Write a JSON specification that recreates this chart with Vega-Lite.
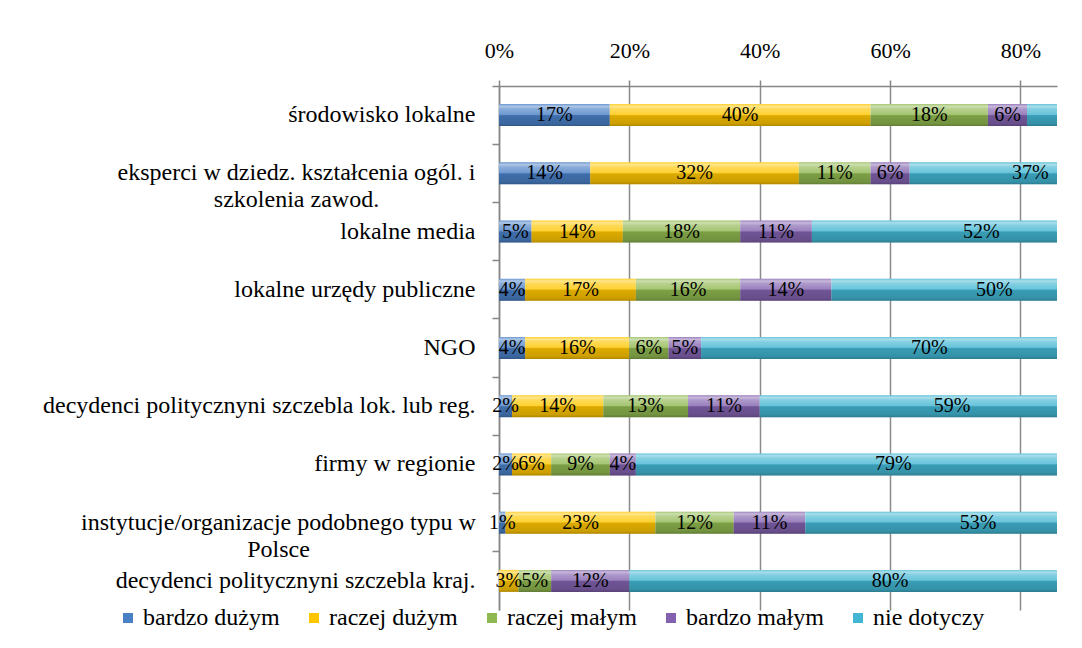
{
  "$schema": "https://vega.github.io/schema/vega-lite/v6.json",
  "width": 558,
  "height": 524,
  "autosize": "none",
  "padding": {"left": 499, "top": 86, "right": 25, "bottom": 38},
  "background": "white",
  "config": {
    "font": "Liberation Serif",
    "view": {"stroke": null},
    "legend": {"labelFont": "Liberation Serif", "labelFontSize": 24}
  },
  "data": {
    "values": [
      {"cat": "środowisko lokalne", "level": "bardzo dużym", "k": 1, "v": 0.17},
      {"cat": "środowisko lokalne", "level": "raczej dużym", "k": 2, "v": 0.40},
      {"cat": "środowisko lokalne", "level": "raczej małym", "k": 3, "v": 0.18},
      {"cat": "środowisko lokalne", "level": "bardzo małym", "k": 4, "v": 0.06},
      {"cat": "środowisko lokalne", "level": "nie dotyczy", "k": 5, "v": 0.19},
      {"cat": "eksperci w dziedz. kształcenia ogól. i\nszkolenia zawod.", "level": "bardzo dużym", "k": 1, "v": 0.14},
      {"cat": "eksperci w dziedz. kształcenia ogól. i\nszkolenia zawod.", "level": "raczej dużym", "k": 2, "v": 0.32},
      {"cat": "eksperci w dziedz. kształcenia ogól. i\nszkolenia zawod.", "level": "raczej małym", "k": 3, "v": 0.11},
      {"cat": "eksperci w dziedz. kształcenia ogól. i\nszkolenia zawod.", "level": "bardzo małym", "k": 4, "v": 0.06},
      {"cat": "eksperci w dziedz. kształcenia ogól. i\nszkolenia zawod.", "level": "nie dotyczy", "k": 5, "v": 0.37},
      {"cat": "lokalne media", "level": "bardzo dużym", "k": 1, "v": 0.05},
      {"cat": "lokalne media", "level": "raczej dużym", "k": 2, "v": 0.14},
      {"cat": "lokalne media", "level": "raczej małym", "k": 3, "v": 0.18},
      {"cat": "lokalne media", "level": "bardzo małym", "k": 4, "v": 0.11},
      {"cat": "lokalne media", "level": "nie dotyczy", "k": 5, "v": 0.52},
      {"cat": "lokalne urzędy publiczne", "level": "bardzo dużym", "k": 1, "v": 0.04},
      {"cat": "lokalne urzędy publiczne", "level": "raczej dużym", "k": 2, "v": 0.17},
      {"cat": "lokalne urzędy publiczne", "level": "raczej małym", "k": 3, "v": 0.16},
      {"cat": "lokalne urzędy publiczne", "level": "bardzo małym", "k": 4, "v": 0.14},
      {"cat": "lokalne urzędy publiczne", "level": "nie dotyczy", "k": 5, "v": 0.50},
      {"cat": "NGO", "level": "bardzo dużym", "k": 1, "v": 0.04},
      {"cat": "NGO", "level": "raczej dużym", "k": 2, "v": 0.16},
      {"cat": "NGO", "level": "raczej małym", "k": 3, "v": 0.06},
      {"cat": "NGO", "level": "bardzo małym", "k": 4, "v": 0.05},
      {"cat": "NGO", "level": "nie dotyczy", "k": 5, "v": 0.70},
      {"cat": "decydenci politycznyni szczebla lok. lub reg.", "level": "bardzo dużym", "k": 1, "v": 0.02},
      {"cat": "decydenci politycznyni szczebla lok. lub reg.", "level": "raczej dużym", "k": 2, "v": 0.14},
      {"cat": "decydenci politycznyni szczebla lok. lub reg.", "level": "raczej małym", "k": 3, "v": 0.13},
      {"cat": "decydenci politycznyni szczebla lok. lub reg.", "level": "bardzo małym", "k": 4, "v": 0.11},
      {"cat": "decydenci politycznyni szczebla lok. lub reg.", "level": "nie dotyczy", "k": 5, "v": 0.59},
      {"cat": "firmy w regionie", "level": "bardzo dużym", "k": 1, "v": 0.02},
      {"cat": "firmy w regionie", "level": "raczej dużym", "k": 2, "v": 0.06},
      {"cat": "firmy w regionie", "level": "raczej małym", "k": 3, "v": 0.09},
      {"cat": "firmy w regionie", "level": "bardzo małym", "k": 4, "v": 0.04},
      {"cat": "firmy w regionie", "level": "nie dotyczy", "k": 5, "v": 0.79},
      {"cat": "instytucje/organizacje podobnego typu w\nPolsce", "level": "bardzo dużym", "k": 1, "v": 0.01},
      {"cat": "instytucje/organizacje podobnego typu w\nPolsce", "level": "raczej dużym", "k": 2, "v": 0.23},
      {"cat": "instytucje/organizacje podobnego typu w\nPolsce", "level": "raczej małym", "k": 3, "v": 0.12},
      {"cat": "instytucje/organizacje podobnego typu w\nPolsce", "level": "bardzo małym", "k": 4, "v": 0.11},
      {"cat": "instytucje/organizacje podobnego typu w\nPolsce", "level": "nie dotyczy", "k": 5, "v": 0.53},
      {"cat": "decydenci politycznyni szczebla kraj.", "level": "raczej dużym", "k": 2, "v": 0.03},
      {"cat": "decydenci politycznyni szczebla kraj.", "level": "raczej małym", "k": 3, "v": 0.05},
      {"cat": "decydenci politycznyni szczebla kraj.", "level": "bardzo małym", "k": 4, "v": 0.12},
      {"cat": "decydenci politycznyni szczebla kraj.", "level": "nie dotyczy", "k": 5, "v": 0.80}
    ]
  },
  "transform": [
    {"stack": "v", "groupby": ["cat"], "sort": [{"field": "k", "order": "ascending"}], "as": ["v0", "v1"]}
  ],
  "encoding": {
    "y": {
      "field": "cat",
      "type": "nominal",
      "sort": null,
      "title": null,
      "scale": {"paddingInner": 0, "paddingOuter": 0},
      "axis": {
        "ticks": true,
        "bandPosition": 0,
        "tickSize": 7,
        "tickColor": "#868686",
        "tickWidth": 1.5,
        "domainColor": "#868686",
        "domainWidth": 1.5,
        "labelFontSize": 24,
        "labelFont": "Liberation Serif",
        "labelColor": "#000000",
        "labelLimit": 1000,
        "labelLineHeight": 27,
        "labelBaseline": "middle",
        "labelExpr": "isString(datum.label) ? split(datum.label, '\\n') : ''",
        "labelAlign": {"condition": {"test": "isString(datum.value) && indexof(datum.value, '\\n') >= 0", "value": "center"}, "value": "right"},
        "labelPadding": {"condition": [
          {"test": "isString(datum.value) && indexof(datum.value, 'eksperci') == 0", "value": 196},
          {"test": "isString(datum.value) && indexof(datum.value, 'instytucje') == 0", "value": 214}
        ], "value": 17}
      }
    }
  },
  "layer": [
    {
      "mark": {"type": "bar", "height": 22, "clip": true},
      "encoding": {
        "x": {
          "field": "v0",
          "type": "quantitative",
          "scale": {"domain": [0, 0.856], "nice": false},
          "axis": {
            "orient": "top",
            "title": null,
            "values": [0, 0.2, 0.4, 0.6, 0.8],
            "format": ".0%",
            "grid": true,
            "gridColor": "#8a8a8a",
            "gridWidth": 1.5,
            "tickSize": 6,
            "tickColor": "#868686",
            "tickWidth": 1.5,
            "domainColor": "#868686",
            "domainWidth": 1.5,
            "labelFontSize": 22,
            "labelFont": "Liberation Serif",
            "labelColor": "#000000",
            "labelPadding": 23,
            "labelBaseline": "alphabetic",
            "labelFlush": false
          }
        },
        "x2": {"field": "v1"},
        "color": {
          "field": "level",
          "type": "nominal",
          "scale": {
            "domain": ["bardzo dużym", "raczej dużym", "raczej małym", "bardzo małym", "nie dotyczy"],
            "range": ["#4a80c6", "#ffc600", "#90b850", "#8262ae", "#42b6d2"]
          },
          "legend": {
            "title": null,
            "orient": "none",
            "direction": "horizontal",
            "legendX": -383,
            "legendY": 520,
            "padding": 0,
            "symbolType": "square",
            "symbolSize": 100,
            "symbolStrokeWidth": 0,
            "symbolOpacity": 1,
            "labelFontSize": 24,
            "labelFont": "Liberation Serif",
            "labelColor": "#000000",
            "labelOffset": 3,
            "columnPadding": 22,
            "labelLimit": 300
          }
        }
      }
    },
    {
      "mark": {
        "type": "bar",
        "height": 22,
        "clip": true,
        "color": {
          "gradient": "linear",
          "x1": 0, "y1": 0, "x2": 0, "y2": 1,
          "stops": [
            {"offset": 0, "color": "rgba(255,255,255,0.2)"},
            {"offset": 0.1, "color": "rgba(255,255,255,0.55)"},
            {"offset": 0.22, "color": "rgba(255,255,255,0.35)"},
            {"offset": 0.47, "color": "rgba(255,255,255,0.2)"},
            {"offset": 0.53, "color": "rgba(0,0,0,0.14)"},
            {"offset": 0.88, "color": "rgba(0,0,0,0.2)"},
            {"offset": 1, "color": "rgba(0,0,0,0.32)"}
          ]
        }
      },
      "encoding": {
        "x": {"field": "v0", "type": "quantitative"},
        "x2": {"field": "v1"}
      }
    },
    {
      "transform": [
        {"filter": "datum.v0 + datum.v1 < 1.712"},
        {"fold": ["v0", "v1"], "as": ["edge", "pos"]}
      ],
      "mark": {"type": "text", "fontSize": 20, "font": "Liberation Serif", "color": "#000000", "baseline": "middle", "align": "center"},
      "encoding": {
        "x": {"aggregate": "mean", "field": "pos", "type": "quantitative"},
        "detail": {"field": "level", "type": "nominal"},
        "text": {"field": "v", "type": "quantitative", "format": ".0%"}
      }
    }
  ]
}
